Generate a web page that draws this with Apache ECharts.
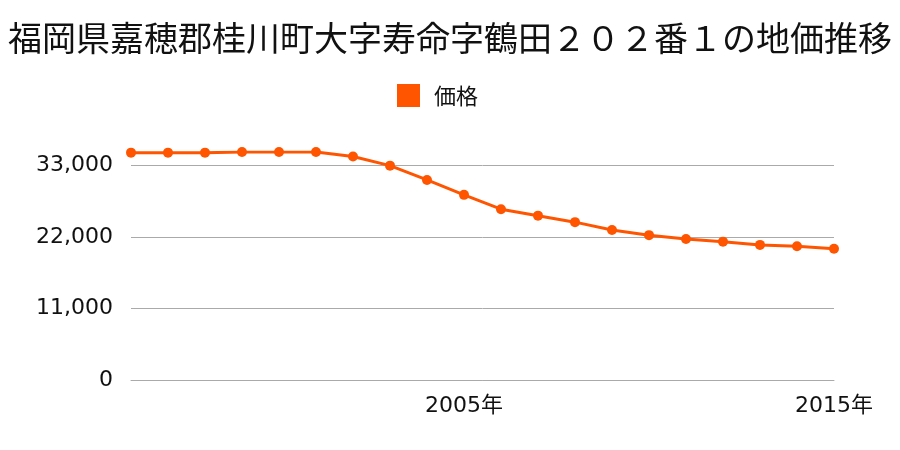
<!DOCTYPE html>
<html>
<head>
<meta charset="utf-8">
<script src="https://cdn.jsdelivr.net/npm/echarts@6/dist/echarts.min.js"></script>
<style>html,body{margin:0;padding:0;background:#fff;}#c{width:900px;height:450px;}</style>
</head>
<body>
<div id="c"></div>
<script>
const titleText = '福岡県嘉穂郡桂川町大字寿命字鶴田２０２番１の地価推移';
const seriesName = '価格';
const years = ['1996年','1997年','1998年','1999年','2000年','2001年','2002年','2003年','2004年','2005年','2006年','2007年','2008年','2009年','2010年','2011年','2012年','2013年','2014年','2015年'];
const prices = [35000,35000,35000,35100,35100,35100,34400,33000,30800,28500,26300,25300,24300,23100,22300,21700,21300,20800,20600,20200];
const shownYearLabels = ['2005年','2015年'];
const yTickInterval = 11000;

const chart = echarts.init(document.getElementById('c'), null, {renderer:'canvas'});
const fam = '"DejaVu Sans","Noto Sans CJK JP",sans-serif';
chart.setOption({
  animation: false,
  backgroundColor: '#fff',
  title: {
    text: titleText, left: 'center', top: 16,
    textStyle: {fontSize: 34, fontWeight: 'normal', color: '#111', fontFamily: '"Noto Sans CJK JP",sans-serif'}
  },
  legend: {
    data: [seriesName], top: 79, left: 392,
    icon: 'rect', itemWidth: 23, itemHeight: 23,
    textStyle: {fontSize: 22, color: '#111', fontFamily: '"Noto Sans CJK JP",sans-serif', padding: [0,0,0,9]}
  },
  grid: {left: 131, right: 66, top: 152, bottom: 70, containLabel: false},
  xAxis: {
    type: 'category', data: years, boundaryGap: false,
    axisLine: {show: true, lineStyle: {color: '#aaa', width: 1}},
    axisTick: {show: false},
    axisLabel: {
      interval: 0, margin: 15, fontSize: 22, color: '#111', fontFamily: fam,
      formatter: function(v){ return shownYearLabels.indexOf(v) >= 0 ? v : ''; }
    },
    splitLine: {show: false}
  },
  yAxis: {
    type: 'value', min: 0, max: 'dataMax', interval: yTickInterval,
    axisLine: {show: false}, axisTick: {show: false},
    axisLabel: {
      margin: 18, fontSize: 22, color: '#111', fontFamily: fam, showMaxLabel: false,
      formatter: function(v){ return v % yTickInterval === 0 ? v.toLocaleString('en-US') : ''; }
    },
    splitLine: {show: true, showMaxLine: false, lineStyle: {color: '#aaa', width: 1}}
  },
  series: [{
    name: seriesName, type: 'line', data: prices,
    symbol: 'circle', symbolSize: 10,
    itemStyle: {color: '#ff5500'},
    lineStyle: {color: '#ff5500', width: 3}
  }]
});
</script>
</body>
</html>
